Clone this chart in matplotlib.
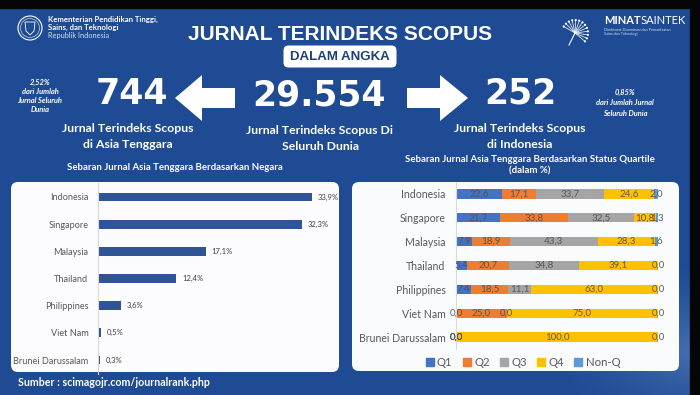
import numpy as np
import matplotlib
matplotlib.use("Agg")
import matplotlib.pyplot as plt
from matplotlib.patches import Polygon, FancyBboxPatch, Circle, Patch

# ---------------- data ----------------
countries = ["Indonesia", "Singapore", "Malaysia", "Thailand", "Philippines", "Viet Nam", "Brunei Darussalam"]
share_pct = [33.9, 32.3, 17.1, 12.4, 3.6, 0.5, 0.3]

quartiles = ["Q1", "Q2", "Q3", "Q4", "Non-Q"]
q1 = [22.6, 21.7, 7.9, 5.4, 7.4, 0.0, 0.0]
q2 = [17.1, 33.8, 18.9, 20.7, 18.5, 25.0, 0.0]
q3 = [33.7, 32.5, 43.3, 34.8, 11.1, 0.0, 0.0]
q4 = [24.6, 10.8, 28.3, 39.1, 63.0, 75.0, 100.0]
nonq = [2.0, 1.3, 1.6, 0.0, 0.0, 0.0, 0.0]

total_world = "29.554"
total_asean = "744"
total_indo = "252"
pct_asean = "2,52%"
pct_indo = "0,85%"

# ---------------- figure ----------------
W, H = 700, 395
fig = plt.figure(figsize=(W / 100, H / 100), dpi=100)
bg = fig.add_axes([0, 0, 1, 1])
bg.set_xlim(0, W)
bg.set_ylim(H, 0)
bg.axis("off")

# background gradient
base = np.array([0x1e, 0x4b, 0x94]) / 255.0
light = np.array([0x5a, 0x80, 0xbc]) / 255.0
yy, xx = np.mgrid[0:H, 0:W]
d = np.sqrt(((xx - 700) / 160.0) ** 2 + ((yy - 350) / 90.0) ** 2)
t = np.clip(1 - d, 0, 1) ** 1.5 * 0.7
img = base[None, None, :] * (1 - t[..., None]) + light[None, None, :] * t[..., None]
bg.imshow(img, extent=(0, W, H, 0), aspect="auto", zorder=0, interpolation="bilinear")
bg.set_xlim(0, W)
bg.set_ylim(H, 0)

# black strips
bg.add_patch(plt.Rectangle((0, 0), W, 8, color="#050608", zorder=1))
bg.add_patch(plt.Rectangle((690, 0), 10, H, color="#050608", zorder=1))

SANS = ["Lato", "DejaVu Sans"]

# title
bg.text(340, 34, "JURNAL TERINDEKS SCOPUS", ha="center", va="center", color="white",
        fontsize=15, fontweight="bold", family=["Liberation Sans", "DejaVu Sans"], zorder=3)
bg.add_patch(FancyBboxPatch((285, 47), 110, 19, boxstyle="round,pad=1.5,rounding_size=5",
                            fc="white", ec="none", zorder=2))
bg.text(340, 57, "DALAM ANGKA", ha="center", va="center", color="#1f3f78",
        fontsize=9.5, fontweight="bold", family=["Liberation Sans", "DejaVu Sans"], zorder=3)

# left logo
bg.add_patch(Circle((30, 28), 12, fc="none", ec="white", lw=0.8, zorder=3))
bg.add_patch(Circle((30, 28), 9.5, fc="none", ec="#c8d4ea", lw=0.5, zorder=3))
bg.add_patch(Polygon([(25, 22), (35, 22), (34, 31), (30, 35), (26, 31)], closed=True,
                     fc="none", ec="white", lw=0.6, zorder=3))
bg.text(48, 19, "Kementerian Pendidikan Tinggi,", color="white", fontsize=5.6, fontweight="bold",
        va="center", family=SANS, zorder=3)
bg.text(48, 27, "Sains, dan Teknologi", color="white", fontsize=5.6, fontweight="bold",
        va="center", family=SANS, zorder=3)
bg.text(48, 35.5, "Republik Indonesia", color="#d5def0", fontsize=5.3,
        va="center", family=SANS, zorder=3)

# right logo (dandelion)
cx, cy = 575, 33
for ang in np.linspace(-40, 150, 13):
    a = np.deg2rad(ang)
    x2, y2 = cx + 13 * np.cos(a), cy - 13 * np.sin(a)
    bg.plot([cx, x2], [cy, y2], color="white", lw=0.5, zorder=3)
    bg.add_patch(Circle((x2, y2), 1.1, fc="white", ec="none", zorder=3))
bg.plot([cx, cx - 6], [cy, cy + 12], color="white", lw=0.8, zorder=3)
t1 = bg.text(604, 21, "MINAT", color="white", fontsize=8, fontweight="bold", va="center",
             family=SANS, zorder=3)
fig.canvas.draw()
bb = t1.get_window_extent()
x_after = bg.transData.inverted().transform((bb.x1, bb.y0))[0]
bg.text(x_after, 21, "SAINTEK", color="white", fontsize=8, va="center", family=SANS, zorder=3)
bg.text(604, 30, "Direktorat Diseminasi dan Pemanfaatan", color="#d5def0", fontsize=2.8,
        va="center", family=SANS, zorder=3)
bg.text(604, 34.5, "Sains dan Teknologi", color="#d5def0", fontsize=2.8,
        va="center", family=SANS, zorder=3)

# big numbers
bigkw = dict(ha="center", va="center", color="white", fontsize=25, fontweight="bold",
             family=["DejaVu Sans"], zorder=3)
bg.text(132, 94, total_asean, **bigkw)
bg.text(319, 95, total_world, **bigkw)
bg.text(520, 94, total_indo, **bigkw)

# arrows
bg.add_patch(Polygon([(175, 98), (202, 75), (202, 88), (235, 88), (235, 108), (202, 108), (202, 121)],
                     closed=True, fc="white", ec="none", zorder=3))
bg.add_patch(Polygon([(468, 98), (440, 75), (440, 88), (407, 88), (407, 108), (440, 108), (440, 121)],
                     closed=True, fc="white", ec="none", zorder=3))

subkw = dict(ha="center", va="center", color="white", fontsize=8.8, fontweight="bold",
             family=SANS, zorder=3)
bg.text(128, 129, "Jurnal Terindeks Scopus", **subkw)
bg.text(128, 144, "di Asia Tenggara", **subkw)
bg.text(320, 131, "Jurnal Terindeks Scopus Di", **subkw)
bg.text(320, 146, "Seluruh Dunia", **subkw)
bg.text(520, 129, "Jurnal Terindeks Scopus", **subkw)
bg.text(520, 144, "di Indonesia", **subkw)

notekw = dict(ha="center", va="center", color="white", fontsize=5.4, style="italic",
              fontweight="bold", family=SANS, zorder=3)
for i, s in enumerate([pct_asean, "dari Jumlah", "Jurnal Seluruh", "Dunia"]):
    bg.text(40, 82 + i * 9.3, s, **notekw)
for i, s in enumerate([pct_indo, "dari Jumlah Jurnal", "Seluruh Dunia"]):
    bg.text(625, 92 + i * 10.5, s, **notekw)

capkw = dict(ha="center", va="center", color="white", fontsize=6.9, fontweight="bold",
             family=SANS, zorder=3)
bg.text(175, 168, "Sebaran Jurnal Asia Tenggara Berdasarkan Negara", **capkw)
bg.text(530, 160, "Sebaran Jurnal Asia Tenggara Berdasarkan Status Quartile", **capkw)
bg.text(530, 171, "(dalam %)", **capkw)

bg.text(18, 382, "Sumber : scimagojr.com/journalrank.php", ha="left", va="center", color="white",
        fontsize=7.7, fontweight="bold", family=SANS, zorder=3)

# panels
bg.add_patch(FancyBboxPatch((14, 185), 322, 184, boxstyle="round,pad=3,rounding_size=7",
                            fc="#fcfcfe", ec="none", zorder=2))
bg.add_patch(FancyBboxPatch((355, 185), 321, 183, boxstyle="round,pad=3,rounding_size=7",
                            fc="#fafbfd", ec="none", zorder=2))


def fig_axes(x0, y_top, w, h):
    return fig.add_axes([x0 / W, 1 - (y_top + h) / H, w / W, h / H])


# ---------------- left chart ----------------
pxu = 6.31
axL = fig_axes(98, 183.4, 37 * pxu, 190.2)
axL.patch.set_alpha(0)
yL = np.arange(len(countries))
axL.barh(yL, share_pct, height=0.33, color="#2f5597")
for yi, v in zip(yL, share_pct):
    axL.text(v + 0.9, yi, f"{v:.1f}%".replace(".", ","), va="center", ha="left",
             fontsize=5.5, color="#404040", family=SANS)
axL.set_xlim(0, 37)
axL.set_ylim(len(countries) - 0.5, -0.5)
axL.set_yticks(yL)
axL.set_yticklabels(countries, fontsize=6.6, color="#595959", family=SANS)
axL.tick_params(axis="y", length=0, pad=7)
axL.set_xticks([])
for s in ["top", "right", "bottom"]:
    axL.spines[s].set_visible(False)
axL.spines["left"].set_color("#d9d9d9")
axL.spines["left"].set_linewidth(0.8)

# ---------------- right chart ----------------
axR = fig_axes(456, 182, 202, 167)
axR.patch.set_alpha(0)
yR = np.arange(len(countries))
series = [q1, q2, q3, q4, nonq]
colors = ["#4472c4", "#ed7d31", "#a5a5a5", "#ffc000", "#5b9bd5"]
left = np.zeros(len(countries))
for vals, col in zip(series, colors):
    vals = np.array(vals)
    axR.barh(yR, vals, left=left, height=0.39, color=col)
    for yi, l, v in zip(yR, left, vals):
        axR.text(l + v / 2, yi, f"{v:.1f}".replace(".", ","), ha="center", va="center",
                 fontsize=7, color="#505050", alpha=0.9, family=SANS)
    left = left + vals
axR.set_xlim(0, 100)
axR.set_ylim(len(countries) - 0.5, -0.5)
axR.set_yticks(yR)
axR.set_yticklabels(countries, fontsize=7.6, color="#595959", family=SANS)
axR.tick_params(axis="y", length=0, pad=7.5)
axR.set_xticks([])
for s in ["top", "right", "bottom"]:
    axR.spines[s].set_visible(False)
axR.spines["left"].set_color("#d9d9d9")
axR.spines["left"].set_linewidth(0.8)

handles = [Patch(color=c, label=q) for c, q in zip(colors, quartiles)]
fig.legend(handles=handles, loc="center", bbox_to_anchor=(523 / W, 1 - 362 / H), ncol=5,
           frameon=False, prop={"family": SANS, "size": 8.2}, labelcolor="#595959",
           handlelength=0.7, handleheight=0.7, handletextpad=0.3, columnspacing=0.9)

fig.savefig("out.png", dpi=100)
